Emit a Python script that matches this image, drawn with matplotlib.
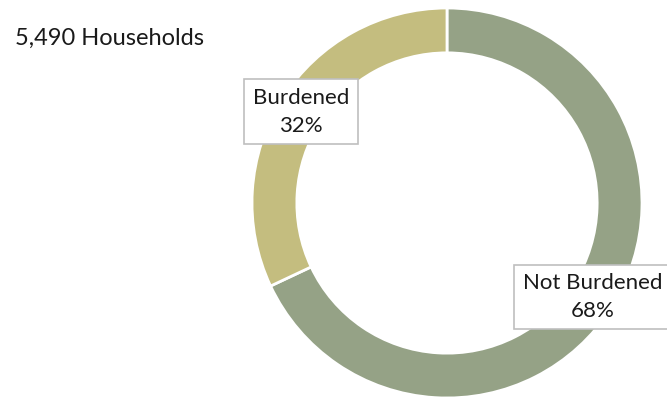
import matplotlib
import matplotlib.pyplot as plt

matplotlib.use('Agg')

categories = ['Not Burdened', 'Burdened']
shares = [68, 32]
colors = ['#95A286', '#C4BD7F']
total_households = 5490

plt.rcParams['font.family'] = ['Lato', 'DejaVu Sans']

fig = plt.figure(figsize=(6.67, 3.99), dpi=100)
# square axes holding the ring, in figure fractions
ax = fig.add_axes([252 / 667, 1 / 399, 390 / 667, 390 / 399])

ax.pie(shares, colors=colors, startangle=90, counterclock=False,
       radius=1.0, wedgeprops=dict(width=0.23, edgecolor='white', linewidth=2))
ax.set_xlim(-1, 1)
ax.set_ylim(-1, 1)
ax.set_aspect('equal')
ax.axis('off')

label_pos = {'Not Burdened': (0.745, -0.482), 'Burdened': (-0.75, 0.467)}
box = dict(boxstyle='square,pad=0.4', facecolor='white', edgecolor='#BFBFBF', linewidth=1.2)
for name, val in zip(categories, shares):
    x, y = label_pos[name]
    ax.text(x, y, f'{name}\n{val}%', ha='center', va='center', fontsize=16,
            color='#1a1a1a', linespacing=1.45, bbox=box, clip_on=False)

fig.text(15 / 667, 1 - 38 / 399, f'{total_households:,} Households', ha='left', va='center',
         fontsize=17, color='#1a1a1a')

fig.savefig('out.png', dpi=100)
